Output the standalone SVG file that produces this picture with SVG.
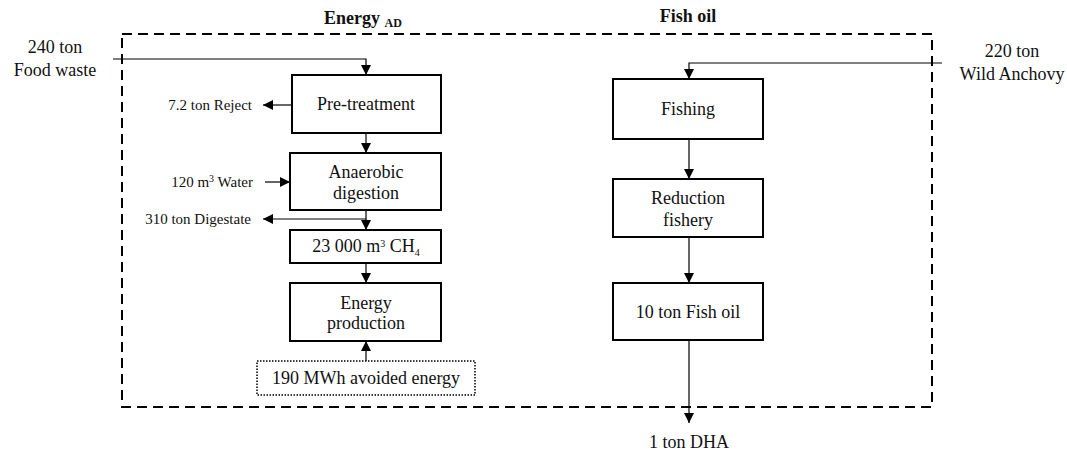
<svg xmlns="http://www.w3.org/2000/svg" width="1067" height="454" viewBox="0 0 1067 454" font-family="'Liberation Serif', 'DejaVu Serif', serif">
<defs>
<marker id="ah" viewBox="0 0 10 10" refX="10" refY="5" markerWidth="10" markerHeight="10" markerUnits="userSpaceOnUse" orient="auto">
<path d="M0,0 L10,5 L0,10 z" fill="#000"/>
</marker>
<style>
text{font-family:'Liberation Serif','DejaVu Serif',serif;fill:#111;}
.box{fill:#fff;stroke:#000;stroke-width:2;}
.t{font-size:18px;text-anchor:middle;}
.s{font-size:15px;}
.io{font-size:18px;text-anchor:middle;}
.ttl{font-size:18px;font-weight:bold;text-anchor:middle;}
.c{fill:none;stroke:#000;stroke-width:1.2;}
</style>
</defs>
<rect x="0" y="0" width="1067" height="454" fill="#fff"/>
<rect id="boundary" x="122" y="34" width="810" height="373" fill="none" stroke="#000" stroke-width="2" stroke-dasharray="10,6"/>
<text class="ttl" x="363" y="24">Energy <tspan font-size="12" dy="3">AD</tspan></text>
<text class="ttl" x="688" y="22">Fish oil</text>

<g id="connectors">
<path class="c" d="M113,59 H366 V75" marker-end="url(#ah)"/>
<path class="c" d="M292,105 H263" marker-end="url(#ah)"/>
<path class="c" d="M366,133 V153" marker-end="url(#ah)"/>
<path class="c" d="M265,182 H290" marker-end="url(#ah)"/>
<path class="c" d="M366,210 V219 H263" marker-end="url(#ah)"/>
<path class="c" d="M366,219 V230" marker-end="url(#ah)"/>
<path class="c" d="M366,263 V283" marker-end="url(#ah)"/>
<path class="c" d="M366,361 V341" marker-end="url(#ah)"/>
<path class="c" d="M942,63 H689 V79" marker-end="url(#ah)"/>
<path class="c" d="M689,139 V179" marker-end="url(#ah)"/>
<path class="c" d="M689,237 V283" marker-end="url(#ah)"/>
<path class="c" d="M689,340 V423" marker-end="url(#ah)"/>
</g>

<g id="food-waste"><text class="io" x="55" y="53">240 ton</text><text class="io" x="55" y="76">Food waste</text></g>
<g id="anchovy"><text class="io" x="1012" y="57">220 ton</text><text class="io" x="1012" y="80">Wild Anchovy</text></g>
<g id="reject"><text class="s" x="252" y="110" text-anchor="end">7.2 ton Reject</text></g>
<g id="water"><text class="s" x="253" y="187" text-anchor="end">120 m<tspan font-size="10" dy="-5">3</tspan><tspan dy="5"> Water</tspan></text></g>
<g id="digestate"><text class="s" x="251" y="224" text-anchor="end">310 ton Digestate</text></g>

<g id="pretreatment"><rect class="box" x="292" y="75" width="149" height="58"/><text class="t" x="366" y="110">Pre-treatment</text></g>
<g id="anaerobic"><rect class="box" x="290" y="153" width="151" height="57"/><text class="t" x="366" y="178">Anaerobic</text><text class="t" x="366" y="199">digestion</text></g>
<g id="ch4"><rect class="box" x="290" y="230" width="151" height="33"/><text class="t" x="366" y="252" font-size="15">23 000 m<tspan font-size="10" dy="-5">3</tspan><tspan dy="5"> CH</tspan><tspan font-size="10" dy="4">4</tspan></text></g>
<g id="energy"><rect class="box" x="290" y="283" width="151" height="58"/><text class="t" x="366" y="309">Energy</text><text class="t" x="366" y="329">production</text></g>
<g id="avoided"><rect x="257" y="361" width="218" height="34" fill="#fff" stroke="#000" stroke-width="1.5" stroke-dasharray="1.5,1.5"/><text class="t" x="366" y="384" font-size="19.5">190 MWh avoided energy</text></g>

<g id="fishing"><rect class="box" x="613" y="79" width="150" height="60"/><text class="t" x="688" y="115">Fishing</text></g>
<g id="reduction"><rect class="box" x="613" y="179" width="150" height="58"/><text class="t" x="688" y="204">Reduction</text><text class="t" x="688" y="226">fishery</text></g>
<g id="fishoil"><rect class="box" x="613" y="283" width="150" height="57"/><text class="t" x="688" y="318">10 ton Fish oil</text></g>
<g id="dha"><text class="t" x="689" y="448">1 ton DHA</text></g>
</svg>
